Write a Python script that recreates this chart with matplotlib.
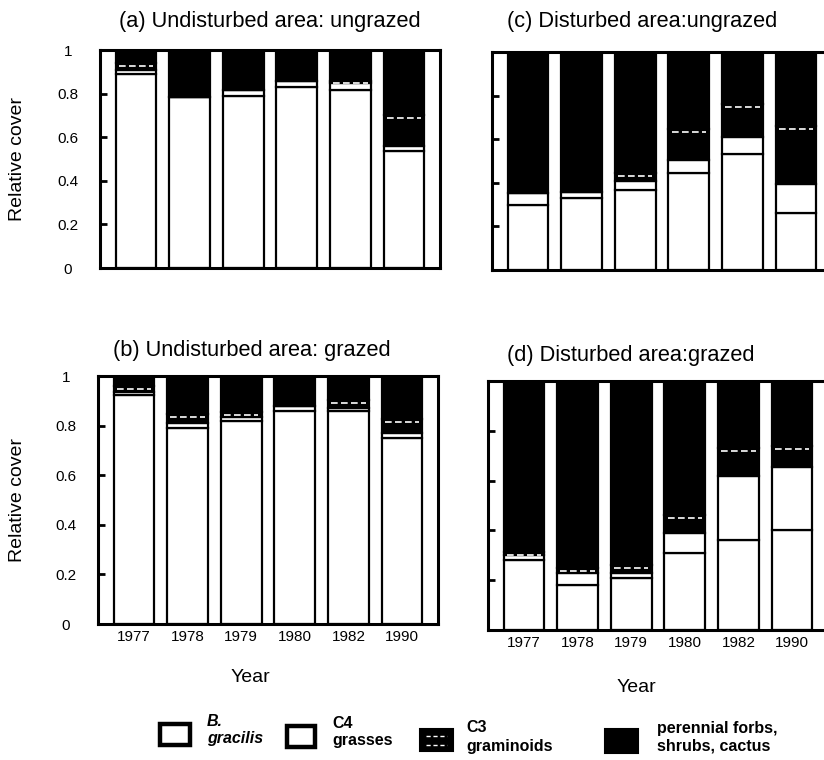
import matplotlib
matplotlib.use('Agg')
import matplotlib.pyplot as plt
from matplotlib.patches import Rectangle
from matplotlib.lines import Line2D
import numpy as np

plt.rcParams['font.family'] = ['Liberation Sans', 'DejaVu Sans']

years = ['1977', '1978', '1979', '1980', '1982', '1990']
ytick_vals = [0, 0.2, 0.4, 0.6, 0.8, 1]
ytick_labels = ['0', '0.2', '0.4', '0.6', '0.8', '1']

# (a) Undisturbed area: ungrazed
a_bgracilis = [0.89, 0.785, 0.79, 0.83, 0.815, 0.535]
a_c4 = [0.02, 0.0, 0.025, 0.03, 0.035, 0.025]
a_c3 = [0.03, 0.0, 0.0, 0.0, 0.01, 0.14]
a_perennial = [0.06, 0.215, 0.185, 0.14, 0.14, 0.30]

# (c) Disturbed area: ungrazed
c_bgracilis = [0.30, 0.33, 0.365, 0.445, 0.53, 0.26]
c_c4 = [0.055, 0.03, 0.045, 0.06, 0.08, 0.135]
c_c3 = [0.0, 0.0, 0.035, 0.14, 0.15, 0.265]
c_perennial = [0.645, 0.64, 0.555, 0.355, 0.24, 0.34]

# (b) Undisturbed area: grazed
b_bgracilis = [0.925, 0.79, 0.82, 0.86, 0.86, 0.75]
b_c4 = [0.01, 0.02, 0.015, 0.02, 0.01, 0.02]
b_c3 = [0.025, 0.035, 0.02, 0.0, 0.035, 0.055]
b_perennial = [0.04, 0.155, 0.145, 0.12, 0.095, 0.175]

# (d) Disturbed area: grazed
d_bgracilis = [0.28, 0.18, 0.21, 0.31, 0.36, 0.40]
d_c4 = [0.02, 0.05, 0.02, 0.08, 0.26, 0.255]
d_c3 = [0.015, 0.02, 0.03, 0.07, 0.11, 0.085]
d_perennial = [0.685, 0.75, 0.74, 0.54, 0.27, 0.26]

W, H = 824, 760
fig = plt.figure(figsize=(W / 100, H / 100), dpi=100)


def px_axes(l, t, r, b):
    return fig.add_axes([l / W, 1 - b / H, (r - l) / W, (b - t) / H])


def draw(ax, bg, c4, c3, per, show_years, show_ylabels):
    x = np.arange(len(years))
    bw = 0.76
    bg = np.array(bg); c4 = np.array(c4); c3 = np.array(c3); per = np.array(per)
    b1 = bg
    b2 = b1 + c4
    b3 = b2 + c3
    ax.bar(x, bg, bw, bottom=0, color='white', edgecolor='black', lw=1.6, zorder=2)
    ax.bar(x, c4, bw, bottom=b1, color='white', edgecolor='black', lw=1.6, zorder=2)
    ax.bar(x, c3, bw, bottom=b2, color='black', edgecolor='black', lw=1.6, zorder=2)
    ax.bar(x, per, bw, bottom=b3, color='black', edgecolor='black', lw=1.6, zorder=2)
    for xi, lo, h in zip(x, b2, c3):
        if h > 0:
            ax.hlines(lo + h - 0.012, xi - bw * 0.42, xi + bw * 0.42, colors='white',
                      linestyles=(0, (4, 2)), lw=1.2, zorder=3)
    ax.set_xlim(-0.67, 5.67)
    ax.set_ylim(0, 1)
    ax.set_yticks(ytick_vals)
    ax.tick_params(axis='y', direction='in', length=5, width=2, pad=23)
    ax.tick_params(axis='x', length=0, pad=4)
    ax.set_xticks(x)
    if show_years:
        ax.set_xticklabels(years, fontsize=11)
    else:
        ax.set_xticklabels([])
    if show_ylabels:
        ax.set_yticklabels(ytick_labels, fontsize=11, ha='center')
    else:
        ax.set_yticklabels([])
    for s in ax.spines.values():
        s.set_linewidth(2.2)


ax_a = px_axes(100, 50, 440, 268)
ax_c = px_axes(492, 52, 832, 270)
ax_b = px_axes(98, 376, 438, 624)
ax_d = px_axes(488, 381, 828, 630)

draw(ax_a, a_bgracilis, a_c4, a_c3, a_perennial, False, True)
draw(ax_c, c_bgracilis, c_c4, c_c3, c_perennial, False, False)
draw(ax_b, b_bgracilis, b_c4, b_c3, b_perennial, True, True)
draw(ax_d, d_bgracilis, d_c4, d_c3, d_perennial, True, False)

def ftext(x, y, s, **kw):
    fig.text(x / W, 1 - y / H, s, **kw)

ftext(270, 21, '(a) Undisturbed area: ungrazed', ha='center', va='center', fontsize=15.7)
ftext(642, 21, '(c) Disturbed area:ungrazed', ha='center', va='center', fontsize=15.7)
ftext(252, 351, '(b) Undisturbed area: grazed', ha='center', va='center', fontsize=15.7)
ftext(631, 356, '(d) Disturbed area:grazed', ha='center', va='center', fontsize=15.7)
ftext(18, 159, 'Relative cover', rotation=90, ha='center', va='center', fontsize=14)
ftext(18, 500, 'Relative cover', rotation=90, ha='center', va='center', fontsize=14)
ftext(250, 678, 'Year', ha='center', va='center', fontsize=14)
ftext(636, 688, 'Year', ha='center', va='center', fontsize=14)

# legend
def swatch(l, t, r, b, face, lw):
    fig.add_artist(Rectangle((l / W, 1 - b / H), (r - l) / W, (b - t) / H,
                             transform=fig.transFigure, facecolor=face,
                             edgecolor='black', lw=lw))

swatch(160, 724, 190, 745, 'white', 3.2)
swatch(287, 726, 315, 747, 'white', 3.2)
swatch(420, 729, 453, 751, 'black', 1.5)
swatch(605, 729, 638, 753, 'black', 1.5)
for yy in (736, 745):
    fig.add_artist(Line2D([426 / W, 447 / W], [1 - yy / H, 1 - yy / H],
                          transform=fig.transFigure, color='white', lw=1,
                          linestyle=(0, (3, 2))))

ftext(207, 730, 'B.\ngracilis', ha='left', va='center', fontsize=11.5,
      fontweight='bold', style='italic', linespacing=1.25)
ftext(332, 732, 'C4\ngrasses', ha='left', va='center', fontsize=11.5,
      fontweight='bold', linespacing=1.25)
ftext(466, 737, 'C3\ngraminoids', ha='left', va='center', fontsize=11.5,
      fontweight='bold', linespacing=1.25)
ftext(657, 737, 'perennial forbs,\nshrubs, cactus', ha='left', va='center', fontsize=11.5,
      fontweight='bold', linespacing=1.25)

fig.savefig('out.png', dpi=100)
